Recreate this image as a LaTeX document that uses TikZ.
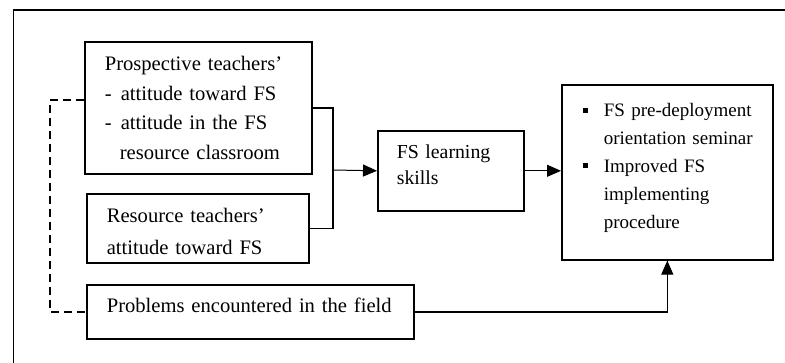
\documentclass[tikz,border=0pt]{standalone}
\usepackage{fontspec}
\setmainfont{Liberation Serif}
\usepackage{tikz}
\usetikzlibrary{arrows.meta}
\pgfdeclarelayer{bg}
\pgfsetlayers{bg,main}
\newcommand{\sqbul}{\raisebox{2.2pt}{\rule{2.4pt}{2.4pt}}}

\begin{document}
\begin{tikzpicture}[
        box/.style={draw, line width=0.8pt, anchor=north west, align=left, inner ysep=0pt, inner xsep=10pt},
        link/.style={line width=0.8pt},
        flow/.style={line width=0.5pt, -{Triangle[length=7pt,width=6pt]}}]
        \useasboundingbox (0cm, 0cm) rectangle (13.794739cm, -6.378963cm);
        \draw [line width=0.8pt] (0.237234cm, -6.378963cm) -- (0.237234cm, -0.175729cm) -- (13.794739cm, -0.175729cm);
        \node (pros) [box, text width=93.5pt, minimum height=66pt, font=\fontsize{10.3}{14.75}\selectfont] at (1.476124cm, -0.720489cm) {
Prospective teachers'\\ \makebox[8pt][l]{-}attitude toward FS\\ \makebox[8pt][l]{-}attitude in the FS\\ \hspace*{7.5pt}resource classroom};
        \node (res) [box, text width=91pt, minimum height=34.5pt, text height=10.6pt, font=\fontsize{10.3}{16}\selectfont] at (1.511269cm, -3.391570cm) {
Resource teachers'\\ attitude toward FS};
        \node (prob) [box, text width=143.5pt, minimum height=27pt, text depth=6.4pt, font=\fontsize{10.3}{14}\selectfont] at (1.511269cm, -4.990704cm) {
Problems encountered in the field};
        \node (skill) [box, inner xsep=9.5pt, text width=54pt, minimum height=40pt, text depth=19pt, font=\fontsize{9.9}{13}\selectfont] at (6.624984cm, -2.284477cm) {
FS learning\\ skills};
        \node (out) [box, inner xsep=2pt, text width=101.5pt, minimum height=87.5pt, text depth=61.9pt, font=\fontsize{9.5}{13.9}\selectfont] at (9.858397cm, -1.476124cm) {
\hspace*{8.5pt}\makebox[10.5pt][l]{\sqbul}FS pre-deployment\\ \hspace*{19pt}orientation seminar\\ \hspace*{8.5pt}\makebox[10.5pt][l]{\sqbul}Improved FS\\ \hspace*{19pt}implementing\\ \hspace*{19pt}procedure};
        \coordinate (jn) at (5.851776cm, -2.987393cm);
        \begin{pgfonlayer}{bg}
                \draw [link] (pros.east) -| (jn) |- (res.east);
                \draw [flow] (jn) -- (skill.west);
                \draw [flow] (skill.east) -- (skill.east -| out.west);
                \draw [link] (prob.east) -| (out.south);
                \draw [flow] (prob.east -| out.south) -- (out.south);
                \draw [link, dash pattern=on 4pt off 2.5pt] ([yshift=4pt]pros.west) -- ++(-17pt, 0pt) |- (prob.west);
        \end{pgfonlayer}
\end{tikzpicture}
\end{document}
